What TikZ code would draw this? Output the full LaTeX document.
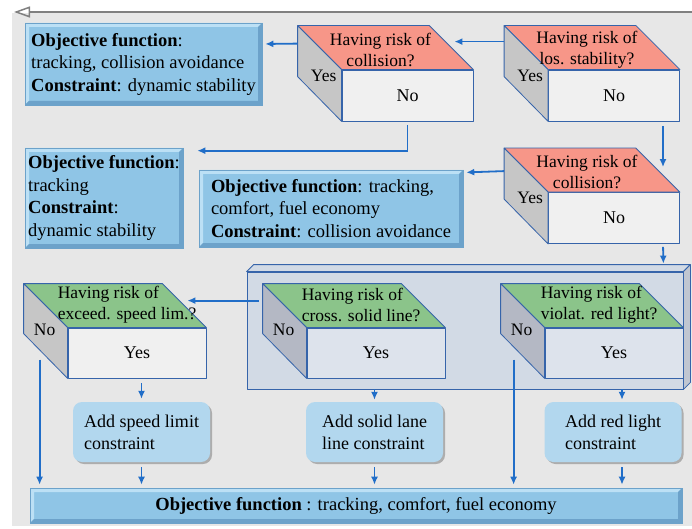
\documentclass[tikz,border=0pt]{standalone}
\usepackage{fontspec}
\setmainfont{Liberation Serif}
\usetikzlibrary{arrows.meta,shadows}

\definecolor{bggray}{RGB}{231,231,231}
\definecolor{edgeblue}{RGB}{54,100,170}
\definecolor{arrowblue}{RGB}{33,110,200}
\definecolor{redtopc}{RGB}{247,150,136}
\definecolor{greentopc}{RGB}{139,196,138}
\definecolor{sidegray}{RGB}{198,198,198}
\definecolor{frontgray}{RGB}{240,240,240}
\definecolor{sidein}{RGB}{180,184,196}
\definecolor{frontin}{RGB}{221,227,236}
\definecolor{objblue}{RGB}{143,197,230}
\definecolor{objlight}{RGB}{188,224,245}
\definecolor{objdark}{RGB}{108,162,202}
\definecolor{roundblue}{RGB}{178,215,238}
\definecolor{boxfill}{RGB}{210,218,229}

\begin{document}
\begin{tikzpicture}[x=1pt,y=-1pt,
	arr/.style={draw=arrowblue,line width=1.8pt,-{Latex[length=8pt,width=7pt]}},
	face/.style={draw=edgeblue,line width=0.8pt,line join=round},
	redtop/.style={face,fill=redtopc},
	greentop/.style={face,fill=greentopc},
	side/.style={face,fill=sidegray},
	sideinner/.style={face,fill=sidein},
	front/.style={face,fill=frontgray,minimum height=51pt,minimum width=131pt,font=\fontsize{18}{22}\selectfont},
	frontinner/.style={front,fill=frontin,minimum height=50pt,minimum width=138pt},
	toptext/.style={align=center,inner sep=0pt,font=\fontsize{17.5}{21}\selectfont},
	sidetext/.style={inner sep=0pt,font=\fontsize{17.5}{21}\selectfont},
	objbox/.style={draw=objdark,fill=objblue,line width=0.6pt,align=left,inner xsep=3pt,
		font=\fontsize{18.5}{22.5}\selectfont,
		path picture={
			\fill[objlight] (path picture bounding box.north west) -- (path picture bounding box.north east)
				-- ([shift={(-4pt,-4pt)}]path picture bounding box.north east) -- ([shift={(4pt,-4pt)}]path picture bounding box.north west)
				-- ([shift={(4pt,4pt)}]path picture bounding box.south west) -- (path picture bounding box.south west) -- cycle;
			\fill[objdark] (path picture bounding box.south east) -- (path picture bounding box.south west)
				-- ([shift={(4pt,4pt)}]path picture bounding box.south west) -- ([shift={(-4pt,4pt)}]path picture bounding box.south east)
				-- ([shift={(-4pt,-4pt)}]path picture bounding box.north east) -- (path picture bounding box.north east) -- cycle;
		}},
	rbox/.style={fill=roundblue,rounded corners=9pt,minimum width=137pt,minimum height=60pt,align=left,
		font=\fontsize{18}{22}\selectfont,drop shadow={shadow xshift=2pt,shadow yshift=-2pt,fill=black,opacity=0.25}}]
	\useasboundingbox (0,0) rectangle (692,529);
	\fill[bggray] (12,13) rectangle (692,526);

	\coordinate (topright) at (692,12);
	\coordinate (topleft) at (14,12);
	\draw[color=gray,line width=1.5pt,-{Triangle[open,length=16pt,width=11pt]}] (topright) -- (topleft);

	% objective boxes
	\node[objbox,minimum width=237pt,minimum height=82pt] (obj1) at (143.5,64)
		{\textbf{Objective function}:\\tracking, collision avoidance\\\textbf{Constraint}: dynamic stability};
	\node[objbox,minimum width=158pt,minimum height=100pt] (obj2) at (104,198)
		{\textbf{Objective function}:\\tracking\\\textbf{Constraint}:\\dynamic stability};
	\node[objbox,minimum width=264pt,minimum height=77pt] (obj3) at (331,208.5)
		{\textbf{Objective function}: tracking,\\comfort, fuel economy\\\textbf{Constraint}: collision avoidance};
	\node[objbox,minimum width=652pt,minimum height=35pt] (obj4) at (356,505.5)
		{\textbf{Objective function} : tracking, comfort, fuel economy};

	% container of the rule checks
	\node[face,fill=boxfill,minimum width=436pt,minimum height=117pt] (box) at (465,330.5) {};
	\filldraw[face,fill=boxfill] (box.north west) -- ++(7,-7) -- ([shift={(7,-7)}]box.north east) -- (box.north east) -- cycle;
	\filldraw[face,fill=sidein!60!boxfill] (box.north east) -- ++(7,-7) -- ([shift={(7,-7)}]box.south east) -- (box.south east) -- cycle;

	% risk checks
	\node[front] (c1) at (407.5,95.5) {No};
	\filldraw[redtop] (c1.north west) -- ++(-44,-44) -- ([shift={(-44,-44)}]c1.north east) -- (c1.north east) -- cycle;
	\filldraw[side] (c1.north west) -- ++(-44,-44) -- ++(0,51) -- (c1.south west) -- cycle;
	\node[toptext] (t1) at ([shift={(-27,-20)}]c1.north) {Having risk of\\collision?};
	\node[sidetext] (s1) at ([shift={(-18,6)}]c1.north west) {Yes};

	\node[front] (c2) at (614,95.5) {No};
	\filldraw[redtop] (c2.north west) -- ++(-44,-44) -- ([shift={(-44,-44)}]c2.north east) -- (c2.north east) -- cycle;
	\filldraw[side] (c2.north west) -- ++(-44,-44) -- ++(0,51) -- (c2.south west) -- cycle;
	\node[toptext] (t2) at ([shift={(-27,-20)}]c2.north) {Having risk of\\los. stability?};
	\node[sidetext] (s2) at ([shift={(-18,6)}]c2.north west) {Yes};

	\node[front] (c3) at (614,218) {No};
	\filldraw[redtop] (c3.north west) -- ++(-44,-44) -- ([shift={(-44,-44)}]c3.north east) -- (c3.north east) -- cycle;
	\filldraw[side] (c3.north west) -- ++(-44,-44) -- ++(0,51) -- (c3.south west) -- cycle;
	\node[toptext] (t3) at ([shift={(-27,-20)}]c3.north) {Having risk of\\collision?};
	\node[sidetext] (s3) at ([shift={(-18,6)}]c3.north west) {Yes};

	\node[front,minimum height=50pt,minimum width=138pt] (c4) at (137,353) {Yes};
	\filldraw[greentop] (c4.north west) -- ++(-44,-44) -- ([shift={(-44,-44)}]c4.north east) -- (c4.north east) -- cycle;
	\filldraw[side] (c4.north west) -- ++(-44,-44) -- ++(0,50) -- (c4.south west) -- cycle;
	\node[toptext,align=left,anchor=west] (t4) at ([shift={(-10,-23)}]c4.north west) {Having risk of\\exceed. speed lim.?};
	\node[sidetext] (s4) at ([shift={(-23,2)}]c4.north west) {No};

	\node[frontinner] (c5) at (376,353) {Yes};
	\filldraw[greentop] (c5.north west) -- ++(-44,-44) -- ([shift={(-44,-44)}]c5.north east) -- (c5.north east) -- cycle;
	\filldraw[sideinner] (c5.north west) -- ++(-44,-44) -- ++(0,50) -- (c5.south west) -- cycle;
	\node[toptext,align=left,anchor=west] (t5) at ([shift={(-5,-23)}]c5.north west) {Having risk of\\cross. solid line?};
	\node[sidetext] (s5) at ([shift={(-23,2)}]c5.north west) {No};

	\node[frontinner] (c6) at (614,353) {Yes};
	\filldraw[greentop] (c6.north west) -- ++(-44,-44) -- ([shift={(-44,-44)}]c6.north east) -- (c6.north east) -- cycle;
	\filldraw[sideinner] (c6.north west) -- ++(-44,-44) -- ++(0,50) -- (c6.south west) -- cycle;
	\node[toptext,align=left,anchor=west] (t6) at ([shift={(-4,-23)}]c6.north west) {Having risk of\\violat. red light?};
	\node[sidetext] (s6) at ([shift={(-23,2)}]c6.north west) {No};

	% added constraints
	\node[rbox] (r1) at (141.5,432) {Add speed limit\\constraint};
	\node[rbox] (r2) at (374.5,432) {Add solid lane\\line constraint};
	\node[rbox] (r3) at (613,432) {Add red light\\constraint};

	% connectors
	\draw[arr,shorten >=2pt] ([shift={(-44,-28)}]c2.north west) -- ([shift={(-21,-28)}]c1.north east);
	\draw[arr,shorten >=3pt] ([shift={(-44,-26)}]c1.north west) -- ([shift={(0,-20)}]obj1.east);
	\draw[arr,shorten <=4pt] (c1.south) |- ([shift={(14,3)}]obj2.north east);
	\draw[arr,shorten <=5pt] ([xshift=49pt]c2.south) -- ([shift={(49,-25)}]c3.north);
	\draw[arr,shorten >=3pt] ([shift={(-44,-21)}]c3.north west) -- ([shift={(0,-36)}]obj3.east);
	\draw[arr,shorten <=3pt] ([xshift=49pt]c3.south) -- ([shift={(-20,-8)}]box.north east);
	\draw[arr,shorten >=2pt] ([shift={(-48,-27)}]c5.north west) -- ([shift={(-21,-27)}]c4.north east);

	\draw[arr,shorten <=5pt,shorten >=3pt] (c4.south -| r1.north) -- (r1.north);
	\draw[arr,shorten <=5pt,shorten >=3pt] (r1.south) -- (r1.south |- obj4.north);
	\coordinate (n4) at ([shift={(-28,32)}]c4.north west);
	\draw[arr,shorten >=3pt] (n4) -- (n4 |- obj4.north);

	\draw[arr,shorten >=2pt] (box.south -| r2.north) -- (r2.north);
	\draw[arr,shorten <=5pt,shorten >=3pt] (r2.south) -- (r2.south |- obj4.north);
	\coordinate (n6) at ([shift={(-31,32)}]c6.north west);
	\draw[arr,shorten >=3pt] (n6) -- (n6 |- obj4.north);

	\coordinate (a6) at ([xshift=9pt]r3.north);
	\coordinate (b6) at ([xshift=9pt]r3.south);
	\draw[arr,shorten >=2pt] (box.south -| a6) -- (a6);
	\draw[arr,shorten <=5pt,shorten >=3pt] (b6) -- (b6 |- obj4.north);
\end{tikzpicture}
\end{document}
